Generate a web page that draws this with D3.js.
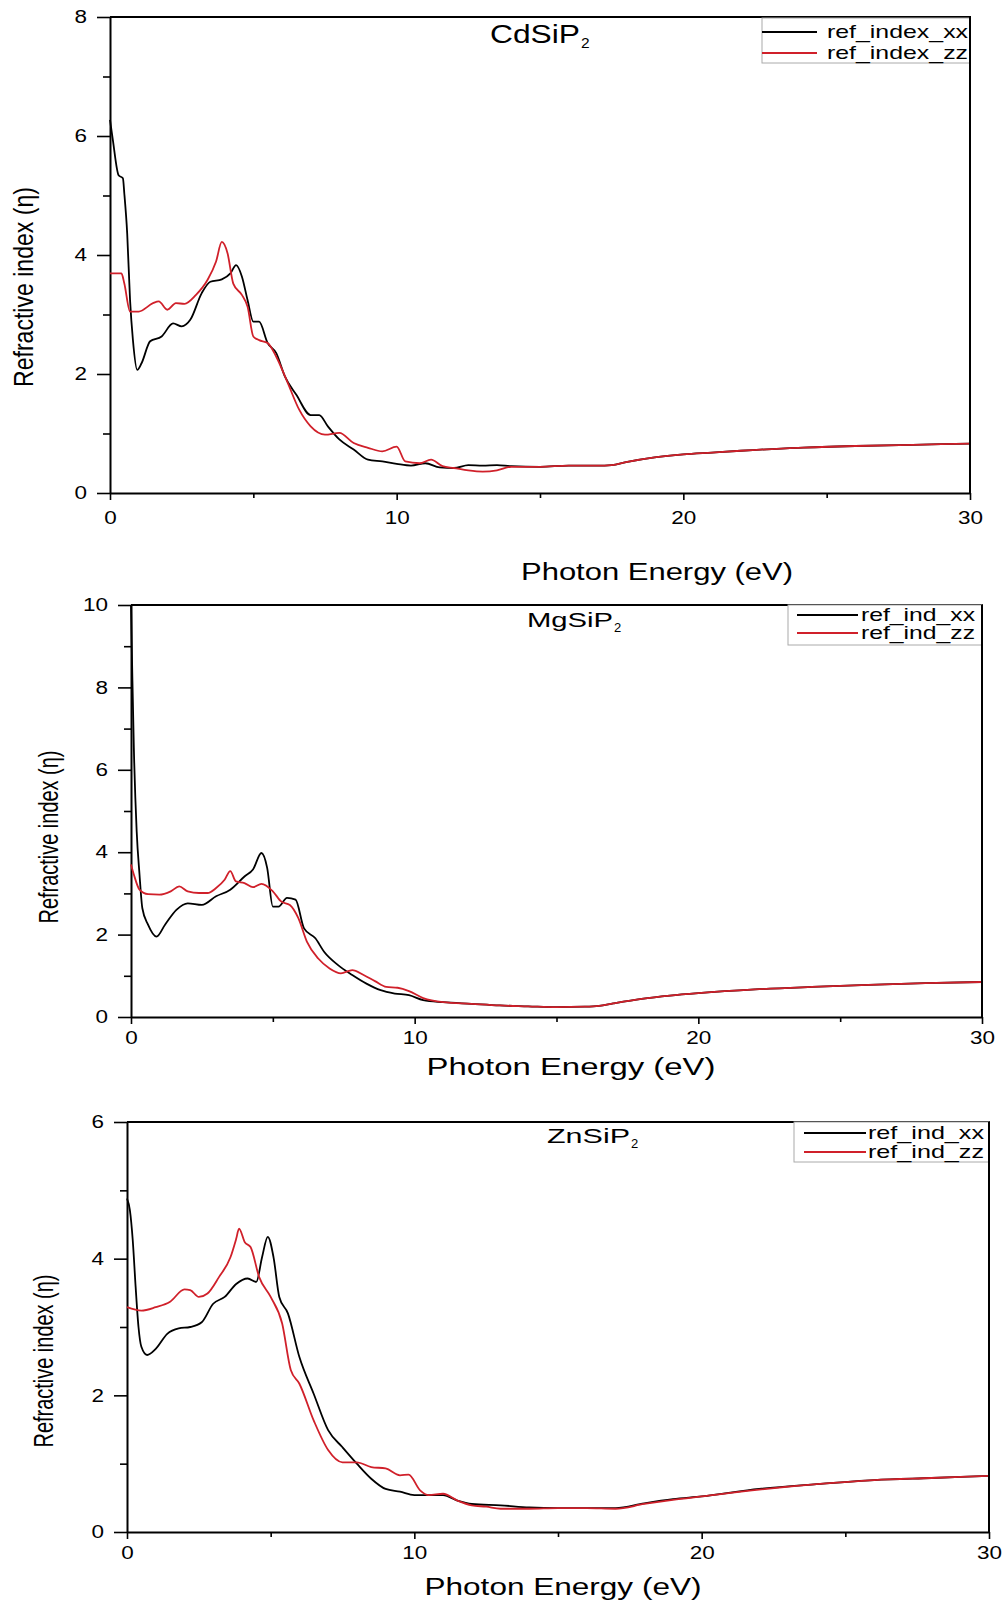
<!DOCTYPE html>
<html>
<head>
<meta charset="utf-8">
<script src="https://cdn.jsdelivr.net/npm/d3@7"></script>
<style>
  body { margin: 0; background: #fff; }
  svg { display: block; }
</style>
</head>
<body>
<div id="content"></div>
<script>
// refractive index vs photon energy, [eV, n]
const cdXX = [[0,6.27],[0.1,5.93],[0.3,5.34],[0.45,5.29],[0.5,5.03],[0.6,4.36],[0.7,3.24],[0.8,2.57],[0.95,2.07],[1.1,2.18],[1.4,2.55],[1.8,2.63],[2.2,2.85],[2.5,2.8],[2.8,2.91],[3.2,3.36],[3.5,3.55],[3.9,3.59],[4.2,3.69],[4.4,3.83],[4.6,3.64],[4.8,3.24],[5.0,2.88],[5.2,2.88],[5.5,2.52],[5.8,2.35],[6.1,1.96],[6.5,1.65],[7.0,1.31],[7.3,1.31],[7.6,1.12],[8.0,0.9],[8.5,0.73],[9.0,0.56],[9.5,0.53],[10,0.49],[10.5,0.46],[11,0.5],[11.5,0.43],[12,0.42],[12.5,0.47],[13,0.46],[13.5,0.47],[14,0.45],[15,0.44],[16,0.46],[17,0.46],[17.5,0.47],[18,0.52],[19,0.6],[20,0.65],[21,0.68],[22,0.71],[24,0.76],[26,0.79],[28,0.81],[30,0.83]];
const cdZZ = [[0,3.69],[0.4,3.69],[0.5,3.52],[0.7,3.05],[1.0,3.05],[1.5,3.19],[1.7,3.22],[2.0,3.08],[2.3,3.19],[2.6,3.18],[3.0,3.33],[3.4,3.58],[3.7,3.89],[3.9,4.22],[4.1,4.03],[4.3,3.52],[4.6,3.33],[4.8,3.13],[5.0,2.63],[5.2,2.57],[5.5,2.52],[5.8,2.29],[6.2,1.85],[6.6,1.4],[7.0,1.12],[7.5,0.98],[8.0,1.01],[8.5,0.84],[9.0,0.76],[9.5,0.7],[10.0,0.78],[10.3,0.53],[10.8,0.5],[11.2,0.56],[11.6,0.45],[12,0.42],[12.5,0.38],[13,0.36],[13.5,0.38],[14,0.44],[15,0.44],[16,0.46],[17,0.46],[17.5,0.47],[18,0.52],[19,0.6],[20,0.65],[21,0.68],[22,0.71],[24,0.76],[26,0.79],[28,0.81],[30,0.83]];
const mgXX = [[0,10],[0.05,8.17],[0.1,6.54],[0.2,4.51],[0.3,3.46],[0.4,2.64],[0.6,2.24],[0.9,1.95],[1.2,2.24],[1.6,2.6],[2.0,2.76],[2.5,2.72],[3.0,2.93],[3.5,3.09],[4.0,3.41],[4.3,3.58],[4.6,3.98],[4.8,3.62],[5.0,2.68],[5.2,2.68],[5.5,2.89],[5.8,2.85],[6.1,2.15],[6.5,1.91],[6.8,1.59],[7.3,1.26],[7.8,1.02],[8.3,0.81],[8.8,0.65],[9.3,0.57],[9.8,0.53],[10.3,0.41],[11,0.36],[12,0.32],[13,0.28],[14,0.26],[15,0.24],[16,0.25],[16.5,0.27],[17,0.33],[18,0.44],[19,0.52],[20,0.58],[22,0.67],[24,0.73],[26,0.78],[28,0.82],[30,0.85]];
const mgZZ = [[0,3.7],[0.1,3.46],[0.3,3.09],[0.6,2.98],[1.0,2.97],[1.4,3.05],[1.7,3.17],[2.0,3.05],[2.4,3.01],[2.7,3.01],[3.0,3.13],[3.3,3.33],[3.5,3.54],[3.7,3.29],[4.0,3.25],[4.3,3.15],[4.6,3.23],[5.0,3.05],[5.3,2.8],[5.6,2.72],[5.9,2.4],[6.2,1.83],[6.6,1.42],[7.0,1.18],[7.4,1.06],[7.8,1.14],[8.2,1.02],[8.6,0.87],[9.0,0.73],[9.4,0.71],[9.8,0.63],[10.3,0.46],[11,0.36],[12,0.32],[13,0.28],[14,0.26],[15,0.24],[16,0.25],[16.5,0.27],[17,0.33],[18,0.44],[19,0.52],[20,0.58],[22,0.67],[24,0.73],[26,0.78],[28,0.82],[30,0.85]];
const znXX = [[0,4.88],[0.1,4.71],[0.2,4.27],[0.3,3.59],[0.4,3.0],[0.5,2.71],[0.7,2.59],[1.0,2.68],[1.4,2.9],[1.8,2.98],[2.2,3.0],[2.6,3.07],[3.0,3.34],[3.4,3.44],[3.8,3.63],[4.2,3.71],[4.5,3.66],[4.7,4.02],[4.9,4.32],[5.1,4.02],[5.3,3.44],[5.6,3.2],[6.0,2.56],[6.5,2.02],[7.0,1.49],[7.5,1.24],[8.0,1.0],[8.5,0.78],[9.0,0.63],[9.5,0.59],[10,0.54],[10.5,0.54],[11,0.54],[11.5,0.46],[12,0.41],[13,0.39],[14,0.36],[15,0.35],[16,0.35],[17,0.35],[18,0.42],[19,0.48],[20,0.52],[22,0.63],[24,0.7],[26,0.76],[28,0.79],[30,0.82]];
const znZZ = [[0,3.29],[0.5,3.24],[1.0,3.29],[1.5,3.37],[2.0,3.55],[2.2,3.54],[2.5,3.44],[2.8,3.49],[3.2,3.73],[3.6,4.02],[3.8,4.29],[3.9,4.44],[4.1,4.24],[4.3,4.17],[4.6,3.73],[5.0,3.44],[5.4,3.05],[5.7,2.37],[6.0,2.17],[6.5,1.63],[7.0,1.2],[7.5,1.02],[8.0,1.02],[8.5,0.95],[9.0,0.93],[9.5,0.83],[9.8,0.84],[10.2,0.61],[10.5,0.54],[11,0.56],[11.5,0.46],[12,0.39],[12.5,0.37],[13,0.34],[14,0.34],[15,0.35],[16,0.35],[17,0.34],[18,0.41],[19,0.47],[20,0.52],[22,0.62],[24,0.7],[26,0.76],[28,0.79],[30,0.82]];

const titles = ['CdSiP', 'MgSiP', 'ZnSiP'];
const legendNames = [['ref_index_xx', 'ref_index_zz'], ['ref_ind_xx', 'ref_ind_zz'], ['ref_ind_xx', 'ref_ind_zz']];
const yMaxes = [8, 10, 6];
const xTicks = [0, 10, 20, 30];
const xMinorTicks = [5, 15, 25];
const xLabel = 'Photon Energy (eV)';
const yLabel = 'Refractive index (η)';

const black = '#000';
const red = '#d0202a';
const font = '"Liberation Sans", Arial, sans-serif';
const narrow = '"Liberation Sans Narrow", "Arial Narrow", "Liberation Sans", sans-serif';

// layout of each panel, in page pixels
const panels = [
  { series: [cdXX, cdZZ], left: 110, right: 970, top: 17, bottom: 493,
    tickOff: 31, title: { x: 490, y: 43, w: 90, size: 25, sx: 581, sy: 48 },
    legend: { x: 762, y: 18, w: 208, h: 45, row0: 32, gap: 21, lx0: 762, lx1: 817, tx: 827, tw: 141 },
    xl: { cx: 657, y: 580, w: 272 }, yl: { x: 33, cy: 287, w: 200, size: 28 } },
  { series: [mgXX, mgZZ], left: 131, right: 982, top: 605, bottom: 1017,
    tickOff: 27, title: { x: 527, y: 627, w: 86, size: 21, sx: 614, sy: 632 },
    legend: { x: 788, y: 605, w: 194, h: 40, row0: 615, gap: 18, lx0: 797, lx1: 858, tx: 861, tw: 114 },
    xl: { cx: 571, y: 1075, w: 289 }, yl: { x: 58, cy: 837, w: 173, size: 27 } },
  { series: [znXX, znZZ], left: 127, right: 989, top: 1122, bottom: 1532,
    tickOff: 27, title: { x: 547, y: 1143, w: 83, size: 21, sx: 631, sy: 1148 },
    legend: { x: 794, y: 1122, w: 195, h: 40, row0: 1133, gap: 19, lx0: 804, lx1: 866, tx: 868, tw: 116 },
    xl: { cx: 563, y: 1595, w: 277 }, yl: { x: 53, cy: 1361, w: 173, size: 27 } }
];

const svg = d3.select('#content')
  .append('svg')
  .attr('width', 1007)
  .attr('height', 1603);

panels.forEach((p, i) => {
  const x = d3.scaleLinear().domain([0, 30]).range([p.left, p.right]);
  const y = d3.scaleLinear().domain([0, yMaxes[i]]).range([p.bottom, p.top]);
  const g = svg.append('g');

  // minor ticks first
  g.append('g')
    .attr('transform', `translate(0,${p.bottom})`)
    .call(d3.axisBottom(x).tickValues(xMinorTicks).tickSize(5).tickSizeOuter(0).tickFormat(''))
    .call(a => a.select('.domain').remove());
  g.append('g')
    .attr('transform', `translate(${p.left},0)`)
    .call(d3.axisLeft(y).tickValues(d3.range(1, yMaxes[i], 2)).tickSize(7).tickSizeOuter(0).tickFormat(''))
    .call(a => a.select('.domain').remove());

  const xAxis = g.append('g')
    .attr('transform', `translate(0,${p.bottom})`)
    .call(d3.axisBottom(x).tickValues(xTicks).tickSize(7).tickSizeOuter(0).tickFormat(d3.format('d')));
  xAxis.selectAll('text')
    .attr('y', p.tickOff).attr('dy', null);

  const yAxis = g.append('g')
    .attr('transform', `translate(${p.left},0)`)
    .call(d3.axisLeft(y).tickValues(d3.range(0, yMaxes[i] + 1, 2)).tickSize(13).tickPadding(10)
      .tickSizeOuter(0).tickFormat(d3.format('d')));

  [xAxis, yAxis].forEach(a => {
    a.selectAll('text')
      .attr('font-family', font)
      .attr('font-size', 18)
      .attr('fill', black)
      .attr('textLength', d => String(d).length * 12.5)
      .attr('lengthAdjust', 'spacingAndGlyphs');
    a.select('.domain').attr('stroke-width', 2);
  });
  g.selectAll('.tick line').attr('stroke', black).attr('stroke-width', 1.6);

  // top and right frame
  g.append('path')
    .attr('d', `M${p.left},${p.top}H${p.right}V${p.bottom}`)
    .attr('fill', 'none')
    .attr('stroke', black)
    .attr('stroke-width', 2);

  const line = d3.line()
    .x(d => x(d[0]))
    .y(d => y(d[1]))
    .curve(d3.curveMonotoneX);

  // red drawn last, it sits on top in the tail
  [black, red].forEach((c, k) => {
    g.append('path')
      .datum(p.series[k])
      .attr('d', line)
      .attr('fill', 'none')
      .attr('stroke', c)
      .attr('stroke-width', 1.8)
      .attr('stroke-linejoin', 'round');
  });

  // title with subscript
  g.append('text')
    .attr('x', p.title.x).attr('y', p.title.y)
    .attr('font-family', font).attr('font-size', p.title.size)
    .attr('textLength', p.title.w).attr('lengthAdjust', 'spacingAndGlyphs')
    .text(titles[i]);
  g.append('text')
    .attr('x', p.title.sx).attr('y', p.title.sy)
    .attr('font-family', font).attr('font-size', p.title.size * 0.62)
    .text('2');

  // legend
  const L = p.legend;
  g.append('rect')
    .attr('x', L.x).attr('y', L.y).attr('width', L.w).attr('height', L.h)
    .attr('fill', '#fff').attr('stroke', '#aaa').attr('stroke-width', 1);
  [black, red].forEach((c, k) => {
    const cy = L.row0 + k * L.gap;
    g.append('line')
      .attr('x1', L.lx0).attr('x2', L.lx1).attr('y1', cy).attr('y2', cy)
      .attr('stroke', c).attr('stroke-width', 1.8);
    g.append('text')
      .attr('x', L.tx).attr('y', cy + 6)
      .attr('font-family', font).attr('font-size', 19)
      .attr('textLength', L.tw).attr('lengthAdjust', 'spacingAndGlyphs')
      .text(legendNames[i][k]);
  });
  // right frame again over legend border
  g.append('line')
    .attr('x1', p.right).attr('x2', p.right).attr('y1', p.top).attr('y2', p.bottom)
    .attr('stroke', black).attr('stroke-width', 2);

  // axis titles
  g.append('text')
    .attr('x', p.xl.cx).attr('y', p.xl.y)
    .attr('text-anchor', 'middle')
    .attr('font-family', font).attr('font-size', 23)
    .attr('textLength', p.xl.w).attr('lengthAdjust', 'spacingAndGlyphs')
    .text(xLabel);
  g.append('text')
    .attr('transform', `translate(${p.yl.x},${p.yl.cy}) rotate(-90)`)
    .attr('text-anchor', 'middle')
    .attr('font-family', narrow).attr('font-size', p.yl.size)
    .attr('textLength', p.yl.w).attr('lengthAdjust', 'spacingAndGlyphs')
    .text(yLabel);
});
</script>
</body>
</html>
